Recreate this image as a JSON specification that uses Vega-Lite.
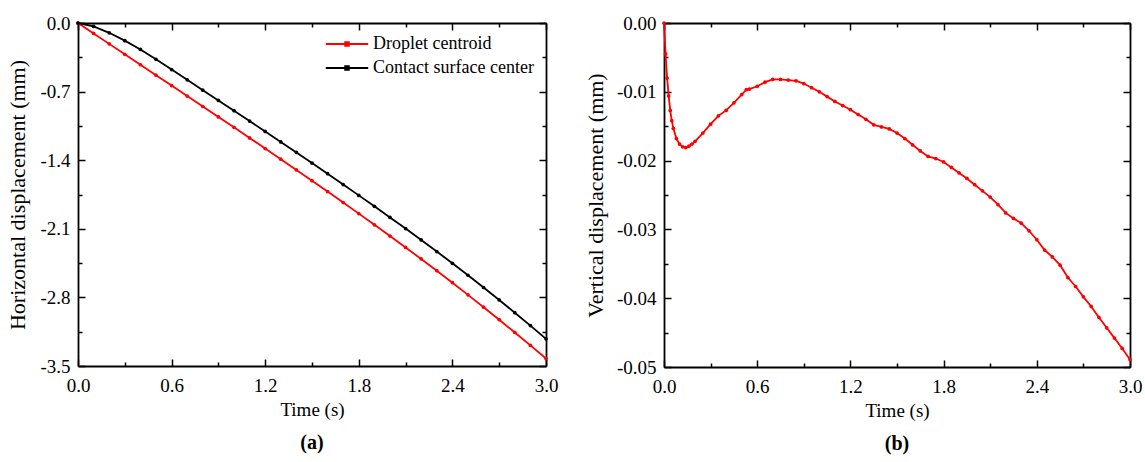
{
  "$schema": "https://vega.github.io/schema/vega-lite/v6.json",
  "background": "white",
  "padding": {"left": 6, "top": 14, "right": 5, "bottom": 5},
  "spacing": 26,
  "resolve": {"scale": {"color": "independent"}, "legend": {"color": "independent"}},
  "config": {
    "font": "Liberation Serif",
    "view": {"stroke": null},
    "axis": {
      "labelFont": "Liberation Serif",
      "labelFontSize": 19,
      "labelColor": "black",
      "titleFont": "Liberation Serif",
      "titleFontSize": 19,
      "titleFontWeight": "normal",
      "titleColor": "black",
      "domainColor": "black",
      "domainWidth": 1.8,
      "tickColor": "black",
      "tickWidth": 1.5,
      "grid": false,
      "labelFlush": false,
      "labelOverlap": false
    },
    "legend": {
      "labelFont": "Liberation Serif",
      "labelFontSize": 18,
      "labelColor": "black",
      "labelLimit": 400,
      "symbolType": "M-3,0H3M-0.25,-0.25H0.25V0.25H-0.25Z",
      "symbolSize": 200,
      "symbolStrokeWidth": 2,
      "labelOffset": 17,
      "padding": 0,
      "rowPadding": 6,
      "offset": 12
    },
    "title": {"font": "Liberation Serif", "fontSize": 20, "fontWeight": "bold", "color": "black"}
  },
  "hconcat": [
    {
      "width": 468,
      "height": 343,
      "title": {"text": "(a)", "orient": "bottom", "offset": 14},
      "data": {"values": [
        {"t": 0.0, "d": 0.0, "s": "Droplet centroid"},
        {"t": 0.1, "d": -0.1065, "s": "Droplet centroid"},
        {"t": 0.2, "d": -0.213, "s": "Droplet centroid"},
        {"t": 0.3, "d": -0.3195, "s": "Droplet centroid"},
        {"t": 0.4, "d": -0.426, "s": "Droplet centroid"},
        {"t": 0.5, "d": -0.5325, "s": "Droplet centroid"},
        {"t": 0.6, "d": -0.639, "s": "Droplet centroid"},
        {"t": 0.7, "d": -0.7455, "s": "Droplet centroid"},
        {"t": 0.8, "d": -0.852, "s": "Droplet centroid"},
        {"t": 0.9, "d": -0.9585, "s": "Droplet centroid"},
        {"t": 1.0, "d": -1.065, "s": "Droplet centroid"},
        {"t": 1.1, "d": -1.173, "s": "Droplet centroid"},
        {"t": 1.2, "d": -1.281, "s": "Droplet centroid"},
        {"t": 1.3, "d": -1.390, "s": "Droplet centroid"},
        {"t": 1.4, "d": -1.499, "s": "Droplet centroid"},
        {"t": 1.5, "d": -1.609, "s": "Droplet centroid"},
        {"t": 1.6, "d": -1.720, "s": "Droplet centroid"},
        {"t": 1.7, "d": -1.832, "s": "Droplet centroid"},
        {"t": 1.8, "d": -1.945, "s": "Droplet centroid"},
        {"t": 1.9, "d": -2.059, "s": "Droplet centroid"},
        {"t": 2.0, "d": -2.174, "s": "Droplet centroid"},
        {"t": 2.1, "d": -2.290, "s": "Droplet centroid"},
        {"t": 2.2, "d": -2.408, "s": "Droplet centroid"},
        {"t": 2.3, "d": -2.528, "s": "Droplet centroid"},
        {"t": 2.4, "d": -2.650, "s": "Droplet centroid"},
        {"t": 2.5, "d": -2.774, "s": "Droplet centroid"},
        {"t": 2.6, "d": -2.900, "s": "Droplet centroid"},
        {"t": 2.7, "d": -3.028, "s": "Droplet centroid"},
        {"t": 2.8, "d": -3.158, "s": "Droplet centroid"},
        {"t": 2.9, "d": -3.290, "s": "Droplet centroid"},
        {"t": 3.0, "d": -3.424, "s": "Droplet centroid"},
        {"t": 0.0, "d": 0.0, "s": "Contact surface center"},
        {"t": 0.1, "d": -0.035, "s": "Contact surface center"},
        {"t": 0.2, "d": -0.10, "s": "Contact surface center"},
        {"t": 0.3, "d": -0.18, "s": "Contact surface center"},
        {"t": 0.4, "d": -0.27, "s": "Contact surface center"},
        {"t": 0.5, "d": -0.37, "s": "Contact surface center"},
        {"t": 0.6, "d": -0.475, "s": "Contact surface center"},
        {"t": 0.7, "d": -0.58, "s": "Contact surface center"},
        {"t": 0.8, "d": -0.685, "s": "Contact surface center"},
        {"t": 0.9, "d": -0.79, "s": "Contact surface center"},
        {"t": 1.0, "d": -0.895, "s": "Contact surface center"},
        {"t": 1.1, "d": -1.001, "s": "Contact surface center"},
        {"t": 1.2, "d": -1.107, "s": "Contact surface center"},
        {"t": 1.3, "d": -1.214, "s": "Contact surface center"},
        {"t": 1.4, "d": -1.321, "s": "Contact surface center"},
        {"t": 1.5, "d": -1.429, "s": "Contact surface center"},
        {"t": 1.6, "d": -1.538, "s": "Contact surface center"},
        {"t": 1.7, "d": -1.648, "s": "Contact surface center"},
        {"t": 1.8, "d": -1.759, "s": "Contact surface center"},
        {"t": 1.9, "d": -1.871, "s": "Contact surface center"},
        {"t": 2.0, "d": -1.984, "s": "Contact surface center"},
        {"t": 2.1, "d": -2.098, "s": "Contact surface center"},
        {"t": 2.2, "d": -2.214, "s": "Contact surface center"},
        {"t": 2.3, "d": -2.332, "s": "Contact surface center"},
        {"t": 2.4, "d": -2.452, "s": "Contact surface center"},
        {"t": 2.5, "d": -2.574, "s": "Contact surface center"},
        {"t": 2.6, "d": -2.699, "s": "Contact surface center"},
        {"t": 2.7, "d": -2.826, "s": "Contact surface center"},
        {"t": 2.8, "d": -2.956, "s": "Contact surface center"},
        {"t": 2.9, "d": -3.088, "s": "Contact surface center"},
        {"t": 3.0, "d": -3.223, "s": "Contact surface center"}
      ]},
      "resolve": {"axis": {"x": "independent", "y": "independent"}},
      "layer": [
        {
          "mark": {"type": "line", "strokeWidth": 1.8, "point": {"filled": true, "size": 14}},
          "encoding": {
            "x": {"field": "t", "type": "quantitative",
              "scale": {"domain": [0, 3], "nice": false, "zero": false},
              "axis": {"orient": "bottom", "values": [0, 0.3, 0.6, 0.9, 1.2, 1.5, 1.8, 2.1, 2.4, 2.7, 3.0],
                "format": ".1f", "labelExpr": "round(datum.value*10) % 6 == 0 ? datum.label : ''",
                "tickSize": {"condition": {"test": "round(datum.value*10) % 6 == 0", "value": -7}, "value": -4},
                "labelPadding": 17, "title": "Time (s)", "titlePadding": 2}},
            "y": {"field": "d", "type": "quantitative",
              "scale": {"domain": [-3.5, 0], "nice": false, "zero": false},
              "axis": {"orient": "left", "values": [-3.5, -3.15, -2.8, -2.45, -2.1, -1.75, -1.4, -1.05, -0.7, -0.35, 0],
                "format": ".1f", "labelExpr": "round(abs(datum.value)*100) % 70 == 0 ? replace(datum.label, '\u2212', '-') : ''",
                "tickSize": {"condition": {"test": "round(abs(datum.value)*100) % 70 == 0", "value": -7}, "value": -4},
                "labelPadding": 15, "title": "Horizontal displacement (mm)", "titleFontSize": 22, "titlePadding": 10}},
            "color": {"field": "s", "type": "nominal",
              "scale": {"domain": ["Droplet centroid", "Contact surface center"], "range": ["#ff0000", "#000000"]},
              "legend": {"title": null, "orient": "top-right"}},
            "order": {"field": "t", "type": "quantitative"}
          }
        },
        {
          "mark": {"type": "line", "opacity": 0},
          "encoding": {
            "x": {"field": "t", "type": "quantitative",
              "axis": {"orient": "top", "values": [0, 0.3, 0.6, 0.9, 1.2, 1.5, 1.8, 2.1, 2.4, 2.7, 3.0],
                "labels": false, "title": null,
                "tickSize": {"condition": {"test": "round(datum.value*10) % 6 == 0", "value": -7}, "value": -4}}},
            "y": {"field": "d", "type": "quantitative",
              "axis": {"orient": "right", "values": [-3.5, -3.15, -2.8, -2.45, -2.1, -1.75, -1.4, -1.05, -0.7, -0.35, 0],
                "labels": false, "title": null,
                "tickSize": {"condition": {"test": "round(abs(datum.value)*100) % 70 == 0", "value": -7}, "value": -4}}},
            "detail": {"field": "s", "type": "nominal"}
          }
        }
      ]
    },
    {
      "width": 466,
      "height": 344,
      "title": {"text": "(b)", "orient": "bottom", "offset": 14},
      "data": {"values": [
        {"t": 0.0, "v": 0.0}, {"t": 0.01, "v": -0.0045}, {"t": 0.02, "v": -0.0080}, {"t": 0.03, "v": -0.0106},
        {"t": 0.04, "v": -0.0127}, {"t": 0.05, "v": -0.0142}, {"t": 0.06, "v": -0.0153}, {"t": 0.08, "v": -0.0168},
        {"t": 0.10, "v": -0.0176}, {"t": 0.12, "v": -0.0180}, {"t": 0.14, "v": -0.0181}, {"t": 0.16, "v": -0.0179},
        {"t": 0.18, "v": -0.0176}, {"t": 0.20, "v": -0.0172}, {"t": 0.25, "v": -0.0160}, {"t": 0.30, "v": -0.0147},
        {"t": 0.35, "v": -0.0135}, {"t": 0.40, "v": -0.0127}, {"t": 0.45, "v": -0.0116}, {"t": 0.50, "v": -0.0104},
        {"t": 0.53, "v": -0.0097}, {"t": 0.55, "v": -0.0096}, {"t": 0.60, "v": -0.0092}, {"t": 0.65, "v": -0.0086},
        {"t": 0.70, "v": -0.0082}, {"t": 0.75, "v": -0.0082}, {"t": 0.80, "v": -0.0083}, {"t": 0.85, "v": -0.0084},
        {"t": 0.90, "v": -0.0088}, {"t": 0.95, "v": -0.0094}, {"t": 1.00, "v": -0.0100}, {"t": 1.05, "v": -0.0107},
        {"t": 1.10, "v": -0.0114}, {"t": 1.15, "v": -0.0120}, {"t": 1.20, "v": -0.0126}, {"t": 1.25, "v": -0.0133},
        {"t": 1.30, "v": -0.0140}, {"t": 1.35, "v": -0.0148}, {"t": 1.40, "v": -0.0151}, {"t": 1.45, "v": -0.0154},
        {"t": 1.50, "v": -0.0160}, {"t": 1.55, "v": -0.0168}, {"t": 1.60, "v": -0.0177}, {"t": 1.65, "v": -0.0186},
        {"t": 1.70, "v": -0.0194}, {"t": 1.75, "v": -0.0197}, {"t": 1.80, "v": -0.0202}, {"t": 1.85, "v": -0.0210},
        {"t": 1.90, "v": -0.0218}, {"t": 1.95, "v": -0.0226}, {"t": 2.00, "v": -0.0235}, {"t": 2.05, "v": -0.0244},
        {"t": 2.10, "v": -0.0253}, {"t": 2.15, "v": -0.0264}, {"t": 2.20, "v": -0.0276}, {"t": 2.25, "v": -0.0284},
        {"t": 2.30, "v": -0.0291}, {"t": 2.35, "v": -0.0302}, {"t": 2.40, "v": -0.0315}, {"t": 2.45, "v": -0.0330},
        {"t": 2.50, "v": -0.0340}, {"t": 2.55, "v": -0.0352}, {"t": 2.60, "v": -0.0370}, {"t": 2.65, "v": -0.0383},
        {"t": 2.70, "v": -0.0398}, {"t": 2.75, "v": -0.0412}, {"t": 2.80, "v": -0.0428}, {"t": 2.85, "v": -0.0443},
        {"t": 2.90, "v": -0.0458}, {"t": 2.95, "v": -0.0473}, {"t": 3.00, "v": -0.0489}
      ]},
      "resolve": {"axis": {"x": "independent", "y": "independent"}},
      "layer": [
        {
          "mark": {"type": "line", "color": "#ff0000", "strokeWidth": 1.8, "point": {"filled": true, "size": 14, "color": "#ff0000"}},
          "encoding": {
            "x": {"field": "t", "type": "quantitative",
              "scale": {"domain": [0, 3], "nice": false, "zero": false},
              "axis": {"orient": "bottom", "values": [0, 0.3, 0.6, 0.9, 1.2, 1.5, 1.8, 2.1, 2.4, 2.7, 3.0],
                "format": ".1f", "labelExpr": "round(datum.value*10) % 6 == 0 ? datum.label : ''",
                "tickSize": {"condition": {"test": "round(datum.value*10) % 6 == 0", "value": -7}, "value": -4},
                "labelPadding": 17, "title": "Time (s)", "titlePadding": 2}},
            "y": {"field": "v", "type": "quantitative",
              "scale": {"domain": [-0.05, 0], "nice": false, "zero": false},
              "axis": {"orient": "left", "values": [-0.05, -0.045, -0.04, -0.035, -0.03, -0.025, -0.02, -0.015, -0.01, -0.005, 0],
                "format": ".2f", "labelExpr": "round(abs(datum.value)*1000) % 10 == 0 ? replace(datum.label, '\u2212', '-') : ''",
                "tickSize": {"condition": {"test": "round(abs(datum.value)*1000) % 10 == 0", "value": -7}, "value": -4},
                "labelPadding": 15, "title": "Vertical displacement (mm)", "titleFontSize": 22, "titlePadding": 9}},
            "order": {"field": "t", "type": "quantitative"}
          }
        },
        {
          "mark": {"type": "line", "opacity": 0},
          "encoding": {
            "x": {"field": "t", "type": "quantitative",
              "axis": {"orient": "top", "values": [0, 0.3, 0.6, 0.9, 1.2, 1.5, 1.8, 2.1, 2.4, 2.7, 3.0],
                "labels": false, "title": null,
                "tickSize": {"condition": {"test": "round(datum.value*10) % 6 == 0", "value": -7}, "value": -4}}},
            "y": {"field": "v", "type": "quantitative",
              "axis": {"orient": "right", "values": [-0.05, -0.045, -0.04, -0.035, -0.03, -0.025, -0.02, -0.015, -0.01, -0.005, 0],
                "labels": false, "title": null,
                "tickSize": {"condition": {"test": "round(abs(datum.value)*1000) % 10 == 0", "value": -7}, "value": -4}}}
          }
        }
      ]
    }
  ]
}
